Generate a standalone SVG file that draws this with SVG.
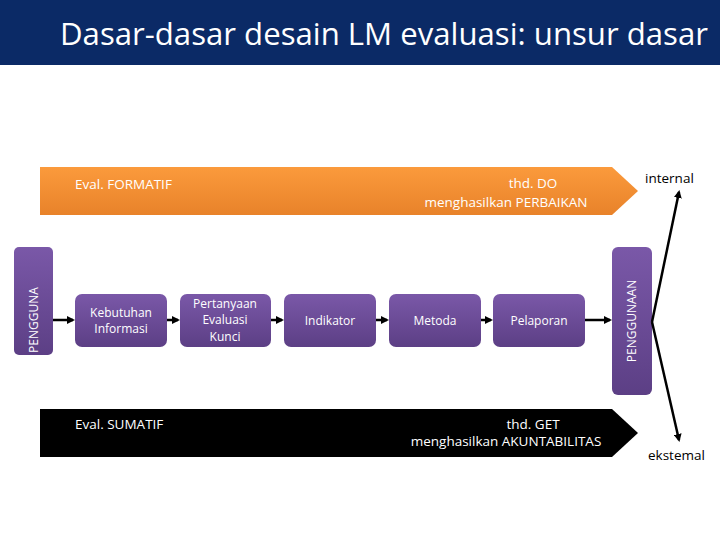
<svg xmlns="http://www.w3.org/2000/svg" width="720" height="540" viewBox="0 0 720 540">
<style>
.bx{fill:url(#pg)}
.bt{fill:#fff;font-family:"Open Sans","DejaVu Sans",sans-serif;font-size:12px;text-anchor:middle}
.c{stroke:#000;stroke-width:2.5;fill:none;marker-end:url(#ah)}
.l{font-family:"Open Sans","DejaVu Sans",sans-serif;font-size:13.5px}
</style>
<defs>
<linearGradient id="pg" x1="0" y1="0" x2="0" y2="1"><stop offset="0" stop-color="#7a58a8"/><stop offset="1" stop-color="#5c3f85"/></linearGradient>
<linearGradient id="og" x1="0" y1="0" x2="0" y2="1"><stop offset="0" stop-color="#fb9a3c"/><stop offset="1" stop-color="#e8822a"/></linearGradient>
<marker id="ah" markerWidth="8" markerHeight="8" refX="6" refY="4" orient="auto" markerUnits="userSpaceOnUse"><path d="M0,0 L8,4 L0,8 z" fill="#000"/></marker>
</defs>
<rect width="720" height="540" fill="#fff"/>
<rect width="720" height="65" fill="#0b2a66"/>
<text x="60" y="45" fill="#fff" font-family="'Open Sans','DejaVu Sans',sans-serif" font-size="31" textLength="648" lengthAdjust="spacingAndGlyphs">Dasar-dasar desain LM evaluasi: unsur dasar</text>
<g id="formatif"><path d="M40,167 H612 L638,191 L612,215 H40 z" fill="url(#og)"/>
<text x="75" y="189" fill="#fff" class="l">Eval. FORMATIF</text>
<text x="533" y="188" fill="#fff" class="l" text-anchor="middle">thd. DO</text>
<text x="506" y="207" fill="#fff" class="l" text-anchor="middle">menghasilkan PERBAIKAN</text></g>
<g id="sumatif"><path d="M40,409 H612 L638,433 L612,457 H40 z" fill="#000"/>
<text x="75" y="429" fill="#fff" class="l">Eval. SUMATIF</text>
<text x="533" y="429" fill="#fff" class="l" text-anchor="middle">thd. GET</text>
<text x="506" y="446" fill="#fff" class="l" text-anchor="middle">menghasilkan AKUNTABILITAS</text></g>
<g id="pengguna"><rect x="14" y="247" width="39" height="108" rx="5" class="bx"/><text class="bt" transform="translate(38,320) rotate(-90)">PENGGUNA</text></g>
<g id="kebutuhan"><rect x="75" y="294" width="92" height="53" rx="7" class="bx"/><text class="bt" x="121" y="317">Kebutuhan</text><text class="bt" x="121" y="333">Informasi</text></g>
<g id="pertanyaan"><rect x="180" y="294" width="91" height="53" rx="7" class="bx"/><text class="bt" x="225" y="308">Pertanyaan</text><text class="bt" x="225" y="324">Evaluasi</text><text class="bt" x="225" y="341">Kunci</text></g>
<g id="indikator"><rect x="284" y="294" width="92" height="53" rx="7" class="bx"/><text class="bt" x="330" y="325">Indikator</text></g>
<g id="metoda"><rect x="389" y="294" width="92" height="53" rx="7" class="bx"/><text class="bt" x="435" y="325">Metoda</text></g>
<g id="pelaporan"><rect x="493" y="294" width="92" height="53" rx="7" class="bx"/><text class="bt" x="539" y="325">Pelaporan</text></g>
<g id="penggunaan"><rect x="612" y="247" width="40" height="148" rx="6" class="bx"/><text class="bt" transform="translate(636,321) rotate(-90)">PENGGUNAAN</text></g>
<g id="connectors">
<path class="c" d="M53,320 H73"/><path class="c" d="M167,320 H178"/><path class="c" d="M271,320 H282"/>
<path class="c" d="M376,320 H387"/><path class="c" d="M481,320 H491"/><path class="c" d="M585,320 H610"/>
<path class="c" d="M652,322 L679,192" stroke-width="2"/><path class="c" d="M652,322 L679,440" stroke-width="2"/>
</g>
<text x="645" y="183" class="l" font-size="14">internal</text>
<text x="648" y="460" class="l" font-size="14">ekstemal</text>
</svg>
